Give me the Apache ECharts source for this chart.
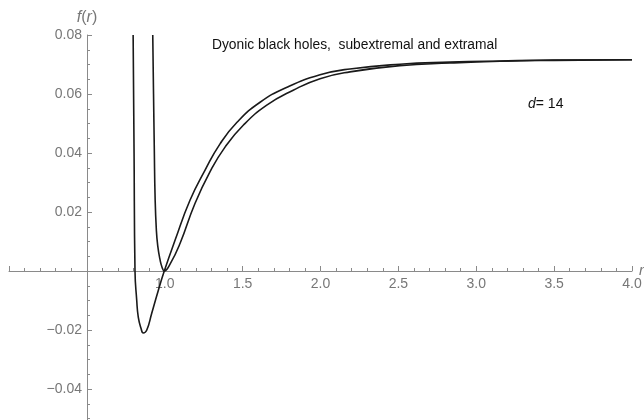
<!DOCTYPE html>
<html>
<head>
<meta charset="utf-8">
<script src="https://cdn.jsdelivr.net/npm/echarts@6.0.0/dist/echarts.min.js"></script>
<style>
html,body{margin:0;padding:0;background:#fff;}
#main{width:644px;height:420px;}
</style>
</head>
<body>
<div id="main"></div>
<script>
// subextremal
var rSub = [0.797, 0.803, 0.809, 0.820, 0.830, 0.848, 0.862, 0.884, 0.916, 0.959, 0.997, 1.066, 1.162, 1.258, 1.355, 1.464, 1.612, 1.785, 1.997, 2.189, 2.510, 2.832, 3.153, 3.499, 4.0];
var fSub = [0.080, 0.040, 0.000, -0.0099, -0.0156, -0.0195, -0.0210, -0.0201, -0.0144, -0.0065, 0.0000, 0.0104, 0.0240, 0.0341, 0.0431, 0.0504, 0.0572, 0.0623, 0.0665, 0.0685, 0.0701, 0.0708, 0.0712, 0.0715, 0.0716];
// extremal
var rExt = [0.923, 0.928, 0.933, 0.938, 0.946, 0.955, 0.969, 0.983, 0.997, 1.034, 1.098, 1.194, 1.291, 1.387, 1.504, 1.655, 1.825, 1.997, 2.189, 2.510, 2.832, 3.153, 3.499, 4.0];
var fExt = [0.080, 0.060, 0.041, 0.025, 0.014, 0.0085, 0.0040, 0.0012, 0.0000, 0.0023, 0.0093, 0.0229, 0.0337, 0.0420, 0.0494, 0.0562, 0.0613, 0.0652, 0.0675, 0.0696, 0.0705, 0.0711, 0.0714, 0.0716];

var xLabels = ['1.0', '1.5', '2.0', '2.5', '3.0', '3.5', '4.0'];
var yLabels = ['\u22120.04', '\u22120.02', '0.02', '0.04', '0.06', '0.08'];

function toPairs(xs, ys){
    var out = [];
    for(var i = 0;i<xs.length;i++){
        out.push([xs[i], ys[i]]);
    }
    return out;
}

var axisGray = '#8a8a8a';
var labelGray = '#777777';
var fontFam = '"Liberation Sans", Arial, sans-serif';

var option = {
    animation:false,
    textStyle:{fontFamily:fontFam},
    title:[
        {
            text:'Dyonic black holes,  subextremal and extramal',
            left:212, top:38, padding:0,
            textStyle:{fontSize:13.8, fontWeight:'normal', color:'#111', fontFamily:fontFam}
        },
        {
            text:'{i|d}= 14',
            left:528, top:97, padding:0,
            textStyle:{fontSize:14, fontWeight:'normal', color:'#111', fontFamily:fontFam,
                rich:{i:{fontStyle:'italic', fontSize:14, color:'#111', fontFamily:fontFam}}}
        }
    ],
    grid:[
        {left:9, right:12, top:35, height:413, containLabel:false, outerBoundsMode:'none'},
        // label strip: its bottom edge sits on f = 0
        {left:9, right:12, top:35, height:236, containLabel:false, outerBoundsMode:'none'}
    ],
    xAxis:[
        {
            type:'value', gridIndex:0,
            min:0, max:4, interval:0.5,
            name:'r',
            nameLocation:'end',
            nameGap:7,
            nameTextStyle:{fontStyle:'italic', color:labelGray, fontSize:15, verticalAlign:'middle'},
            axisLine:{onZero:true, lineStyle:{color:axisGray, width:1}},
            axisTick:{show:true, inside:true, length:5, lineStyle:{color:axisGray}},
            minorTick:{show:true, splitNumber:5, length:3, lineStyle:{color:axisGray}},
            splitLine:{show:false},
            axisLabel:{show:false}
        },
        {
            type:'value', gridIndex:1,
            min:0, max:4, interval:0.5,
            axisLine:{show:false},
            axisTick:{show:false},
            splitLine:{show:false},
            axisLabel:{
                color:labelGray, fontSize:14, margin:6,
                formatter:function(value){
                    var s = value.toFixed(1);
                    return xLabels.indexOf(s) >= 0 ? s : '';
                }
            }
        }
    ],
    yAxis:[
        {
            type:'value', gridIndex:0,
            min:-0.06, max:0.08, interval:0.02,
            position:'left',
            offset:-78,
            name:'{i|f}({i|r})',
            nameLocation:'end',
            nameGap:9,
            nameTextStyle:{color:labelGray, fontSize:16, rich:{i:{fontStyle:'italic', color:labelGray, fontSize:16}}},
            axisLine:{show:true, onZero:false, lineStyle:{color:axisGray, width:1}},
            axisTick:{show:true, inside:true, length:5, lineStyle:{color:axisGray}},
            minorTick:{show:true, splitNumber:4, length:3, lineStyle:{color:axisGray}},
            splitLine:{show:false},
            axisLabel:{
                color:labelGray, fontSize:14, margin:5,
                formatter:function(value){
                    var s = value.toFixed(2);
                    if(value < 0){ s = '\u2212' + Math.abs(value).toFixed(2); }
                    return yLabels.indexOf(s) >= 0 ? s : '';
                }
            }
        },
        {
            type:'value', gridIndex:1, show:false
        }
    ],
    series:[
        {
            type:'line', name:'subextremal',
            xAxisIndex:0, yAxisIndex:0,
            data:toPairs(rSub, fSub),
            showSymbol:false, smooth:0.5, clip:true,
            lineStyle:{color:'#1a1a1a', width:1.6}
        },
        {
            type:'line', name:'extremal',
            xAxisIndex:0, yAxisIndex:0,
            data:toPairs(rExt, fExt),
            showSymbol:false, smooth:0.5, clip:true,
            lineStyle:{color:'#1a1a1a', width:1.6}
        }
    ]
};

var chart = echarts.init(document.getElementById('main'), null, {renderer:'canvas'});
chart.setOption(option);
</script>
</body>
</html>
